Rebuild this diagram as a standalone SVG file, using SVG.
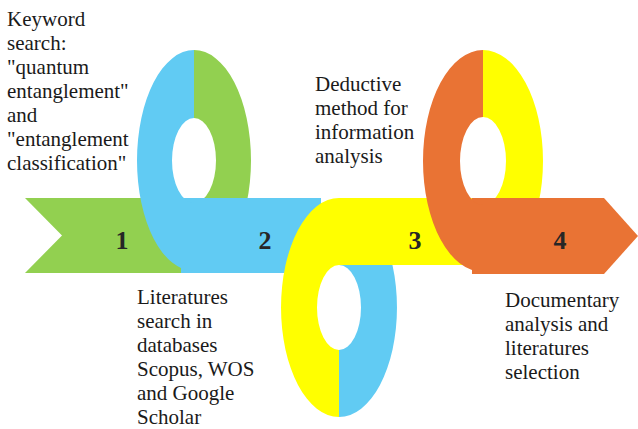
<svg xmlns="http://www.w3.org/2000/svg" width="638" height="429" viewBox="0 0 638 429">
  <style>
    .txt { font-family: "Liberation Serif", "Times New Roman", serif; font-size: 21px; fill: #1a1a1a; }
    .num { font-family: "Liberation Serif", "Times New Roman", serif; font-size: 26px; font-weight: bold; fill: #262626; text-anchor: middle; }
    .green { fill: #92D050; }
    .blue { fill: #61CBF3; }
    .yellow { fill: #FFFF00; }
    .orange { fill: #E97334; }
  </style>
  <rect width="638" height="429" fill="#ffffff"/>

  <!-- ribbon, drawn back to front -->
  <g id="connectors">
    <!-- step 1: arrow tail and right half of the first loop -->
    <g id="step1-ribbon">
      <path class="green" d="M25,198 L200,198 L200,273 L25,273 L62,235.5 Z"/>
      <path class="green" d="M194,50 A57,110.5 0 0 1 194,271 L194,203 A22,42.5 0 0 0 194,118 Z"/>
    </g>
    <!-- step 2: left half of the first loop, band, right half of the lower loop -->
    <g id="step2-ribbon">
      <path class="blue" d="M339,198 A58,109.5 0 0 1 339,417 L339,350 A22,42.5 0 0 0 339,265 Z"/>
      <rect class="blue" x="181" y="198" width="140" height="75"/>
      <path class="blue" d="M194,50 A57,110.5 0 0 0 194,271 L194,203 A22,42.5 0 0 1 194,118 Z"/>
    </g>
    <!-- step 3: left half of the lower loop, band, right half of the third loop -->
    <g id="step3-ribbon">
      <path class="yellow" d="M483,50 A60,111 0 0 1 483,272 L483,205 A23,44 0 0 0 483,117 Z"/>
      <rect class="yellow" x="339" y="198" width="144" height="67"/>
      <path class="yellow" d="M339,198 A58,109.5 0 0 0 339,417 L339,350 A22,42.5 0 0 1 339,265 Z"/>
    </g>
    <!-- step 4: left half of the third loop and arrow head -->
    <g id="step4-ribbon">
      <path class="orange" d="M472,198 L604,198 L638,236 L604,274 L472,274 Z"/>
      <path class="orange" d="M483,50 A60,111 0 0 0 483,272 L483,205 A23,44 0 0 1 483,117 Z"/>
    </g>
  </g>

  <g id="node1">
    <text class="num" x="122" y="249">1</text>
    <text class="txt" x="7">
      <tspan x="7" y="26">Keyword</tspan>
      <tspan x="7" y="50">search:</tspan>
      <tspan x="7" y="74">"quantum</tspan>
      <tspan x="7" y="98">entanglement"</tspan>
      <tspan x="7" y="122">and</tspan>
      <tspan x="7" y="146">"entanglement</tspan>
      <tspan x="7" y="170">classification"</tspan>
    </text>
  </g>

  <g id="node2">
    <text class="num" x="265" y="249">2</text>
    <text class="txt">
      <tspan x="137" y="304">Literatures</tspan>
      <tspan x="137" y="328">search in</tspan>
      <tspan x="137" y="352">databases</tspan>
      <tspan x="137" y="376">Scopus, WOS</tspan>
      <tspan x="137" y="400">and Google</tspan>
      <tspan x="137" y="424">Scholar</tspan>
    </text>
  </g>

  <g id="node3">
    <text class="num" x="415" y="249">3</text>
    <text class="txt">
      <tspan x="315" y="91">Deductive</tspan>
      <tspan x="315" y="115">method for</tspan>
      <tspan x="315" y="139">information</tspan>
      <tspan x="315" y="163">analysis</tspan>
    </text>
  </g>

  <g id="node4">
    <text class="num" x="560" y="249">4</text>
    <text class="txt">
      <tspan x="505" y="307">Documentary</tspan>
      <tspan x="505" y="331">analysis and</tspan>
      <tspan x="505" y="355">literatures</tspan>
      <tspan x="505" y="379">selection</tspan>
    </text>
  </g>
</svg>
